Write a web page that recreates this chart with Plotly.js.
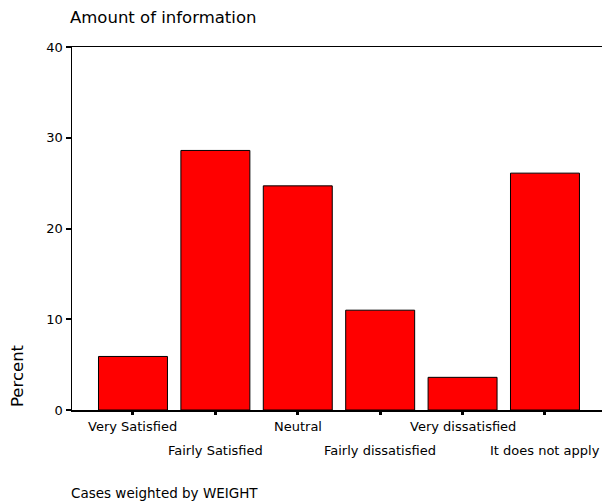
<!DOCTYPE html>
<html>
<head>
<meta charset="utf-8">
<script src="https://cdn.plot.ly/plotly-3.0.1.min.js"></script>
<style>html,body{margin:0;padding:0;background:#fff;}#chart{width:602px;height:504px;}</style>
</head>
<body>
<div id="chart"></div>
<script>
var categories = ["Very Satisfied", "Fairly Satisfied", "Neutral", "Fairly dissatisfied", "Very dissatisfied", "It does not apply"];
var percents = [5.9, 28.6, 24.7, 11.0, 3.6, 26.1];
var yTicks = [0, 10, 20, 30, 40];
var titleText = "Amount of information";
var yTitleText = "Percent";
var footnoteText = "Cases weighted by WEIGHT";

var FONT = "DejaVu Sans, Liberation Sans, Arial, sans-serif";

var trace = {
  type: "bar",
  x: categories,
  y: percents,
  marker: {color: "#ff0000", line: {color: "#000000", width: 1}},
  hoverinfo: "x+y"
};

var L = 72, R = 0, T = 47, B = 94, W = 602, H = 504;
var pw = W - L - R, ph = H - T - B;
function px2paperX(px) { return (px - L) / pw; }
function px2paperY(py) { return (H - B - py) / ph; }

var annotations = categories.map(function(c, i) {
  return {
    x: c, y: 0, xref: "x", yref: "y",
    text: c, showarrow: false,
    xanchor: "center", yanchor: "top",
    yshift: (i % 2 === 0) ? -7 : -31,
    font: {family: FONT, size: 13, color: "#000"}
  };
});
annotations.push({
  x: px2paperX(17), y: px2paperY(376), xref: "paper", yref: "paper",
  text: yTitleText, showarrow: false, textangle: -90,
  xanchor: "center", yanchor: "middle",
  font: {family: FONT, size: 16.5, color: "#000"}
});
annotations.push({
  x: px2paperX(69), y: px2paperY(493), xref: "paper", yref: "paper",
  text: footnoteText, showarrow: false,
  xanchor: "left", yanchor: "middle",
  font: {family: FONT, size: 13.5, color: "#000"}
});
annotations.push({
  x: px2paperX(68), y: px2paperY(18), xref: "paper", yref: "paper",
  text: titleText, showarrow: false,
  xanchor: "left", yanchor: "middle",
  font: {family: FONT, size: 16.5, color: "#000"}
});

var layout = {
  width: W, height: H,
  margin: {l: L, r: R, t: T, b: B, pad: 0},
  paper_bgcolor: "#ffffff",
  plot_bgcolor: "#ffffff",
  showlegend: false,
  bargap: 0.163,
  font: {family: FONT, size: 12, color: "#000"},
  xaxis: {
    type: "category",
    range: [-0.74, 5.692],
    showgrid: false, zeroline: false,
    showline: true, linecolor: "#000", linewidth: 1.5,
    mirror: true,
    ticks: "outside", ticklen: 3, tickwidth: 3, tickcolor: "#000",
    showticklabels: false,
    fixedrange: true
  },
  yaxis: {
    range: [0, 40],
    tickvals: yTicks,
    ticktext: yTicks.map(String),
    showgrid: false, zeroline: false,
    showline: true, linecolor: "#000", linewidth: 1.5,
    ticks: "outside", ticklen: 5, tickwidth: 2, tickcolor: "#000",
    tickfont: {family: FONT, size: 13, color: "#000"},
    fixedrange: true
  },
  annotations: annotations
};

Plotly.newPlot("chart", [trace], layout, {displayModeBar: false, staticPlot: true});
</script>
</body>
</html>
